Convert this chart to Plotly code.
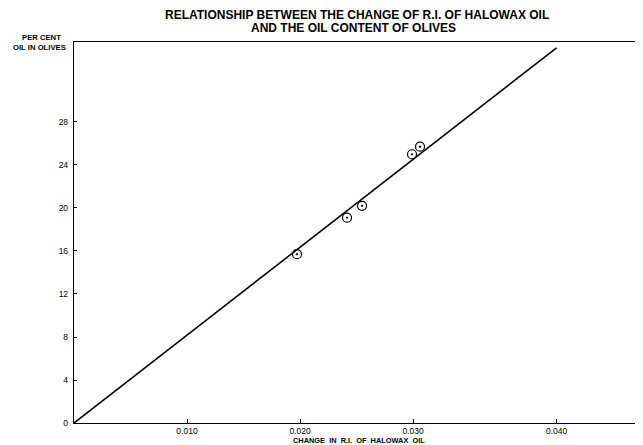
import plotly.graph_objects as go

# Data
ri_change = [0.01973, 0.02416, 0.02549, 0.02991, 0.03062]
oil_pct = [15.7, 19.1, 20.2, 25.0, 25.7]

# fitted line (through origin)
line_x = [0.0, 0.0427]
line_y = [0.0, 34.9]

x_tickvals = [0.010, 0.020, 0.030, 0.0427]
x_ticktext = ["0.010", "0.020", "0.030", "0.040"]
y_tickvals = [0, 4, 8, 12, 16, 20, 24, 28]
y_ticktext = ["0", "4", "8", "12", "16", "20", "24", "28"]

title_lines = ["RELATIONSHIP BETWEEN THE CHANGE OF R.I. OF HALOWAX OIL",
               "AND THE OIL CONTENT OF OLIVES"]
x_title = "CHANGE  IN  R.I.  OF  HALOWAX  OIL"
y_title_lines = ["PER CENT", "OIL IN OLIVES"]

font_family = "Liberation Sans, Arial, sans-serif"

# the page body has an 8px margin, so the figure is drawn 8px smaller
OFF = 8
W, H = 643 - OFF, 445 - OFF
L, R, T, B = 74 - OFF, 0, 42 - OFF, 22
plot_h = H - T - B
plot_w = W - L - R


def py(y_px):
    """paper y for a screen pixel row"""
    return (H - B - (y_px - OFF)) / plot_h


def px(x_px):
    """paper x for a screen pixel column"""
    return (x_px - OFF - L) / plot_w


fig = go.Figure()
fig.add_trace(go.Scatter(x=line_x, y=line_y, mode="lines",
                         line=dict(color="black", width=1.6), showlegend=False))
fig.add_trace(go.Scatter(x=ri_change, y=oil_pct, mode="markers",
                         marker=dict(symbol="circle-open-dot", size=9,
                                     color="black", line=dict(width=1.2)),
                         showlegend=False))

annotations = [
    dict(text="<b>" + title_lines[0] + "</b>", x=px(357), y=py(15),
         font=dict(size=12, family=font_family)),
    dict(text="<b>" + title_lines[1] + "</b>", x=px(353), y=py(28),
         font=dict(size=12, family=font_family)),
    dict(text="<b>" + x_title + "</b>", x=px(359), y=py(440.5),
         font=dict(size=7.4, family=font_family)),
    dict(text="<b>" + y_title_lines[0] + "</b>", x=px(62), y=py(38),
         xanchor="right", font=dict(size=7.7, family=font_family)),
    dict(text="<b>" + y_title_lines[1] + "</b>", x=px(67), y=py(48),
         xanchor="right", font=dict(size=7.7, family=font_family)),
]
for a in annotations:
    a.setdefault("xanchor", "center")
    a.update(xref="paper", yref="paper", yanchor="middle", showarrow=False,
             borderpad=0)

fig.update_layout(
    width=W, height=H,
    margin=dict(l=L, r=R, t=T, b=B),
    paper_bgcolor="white", plot_bgcolor="white",
    font=dict(family=font_family, color="black", size=8),
    xaxis=dict(range=[0.0, 0.05035], tickvals=x_tickvals, ticktext=x_ticktext,
               ticks="inside", ticklen=4, tickcolor="black", tickwidth=1.2,
               ticklabelstandoff=0,
               showline=True, linecolor="black", linewidth=1.4, mirror=True,
               showgrid=False, zeroline=False,
               tickfont=dict(size=8.5, family=font_family)),
    yaxis=dict(range=[0.0, 35.44], tickvals=y_tickvals, ticktext=y_ticktext,
               ticks="inside", ticklen=3, tickcolor="black", tickwidth=1.2,
               ticklabelstandoff=3,
               showline=True, linecolor="black", linewidth=1.4,
               showgrid=False, zeroline=False,
               tickfont=dict(size=8.5, family=font_family)),
    annotations=annotations,
)

fig.write_html("out.html")
